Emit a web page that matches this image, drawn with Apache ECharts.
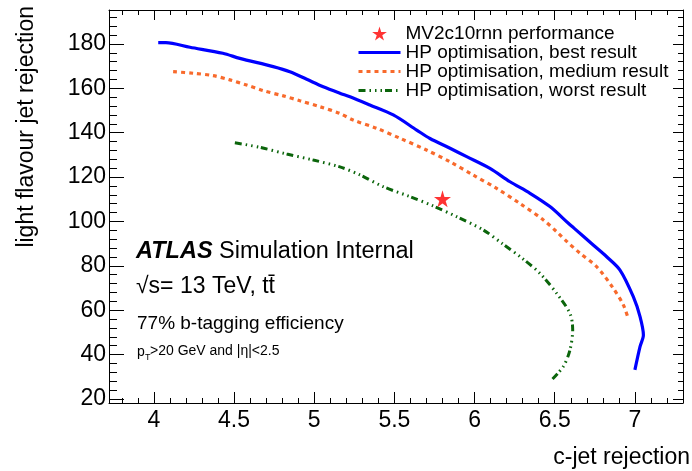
<!DOCTYPE html>
<html>
<head>
<meta charset="utf-8">
<script src="https://cdn.jsdelivr.net/npm/echarts@6/dist/echarts.min.js"></script>
<style>
  html, body { margin: 0; padding: 0; background: #fff; }
  #main { width: 692px; height: 471px; }
</style>
</head>
<body>
<div id="main"></div>
<script type="text/javascript">
  // c-jet rejection (x) / light flavour jet rejection (y)
  var bestC = [4.027, 4.075, 4.225, 4.43, 4.536, 4.744, 4.848, 4.953, 5.056, 5.16, 5.223, 5.347, 5.493, 5.639, 5.722, 5.847, 5.951, 6.096, 6.221, 6.346, 6.47, 6.585, 6.62, 6.74, 6.824, 6.907, 6.99, 7.032, 7.053, 7.032, 7.0];
  var bestL = [180.6, 180.6, 178.5, 175.8, 173.5, 169.8, 167.5, 164.1, 160.7, 157.8, 156.2, 152.5, 148.0, 141.2, 137.4, 133.0, 129.2, 123.9, 117.9, 112.7, 106.7, 99.2, 97.0, 89.4, 84.1, 78.1, 66.1, 57.1, 48.8, 43.6, 33.1];

  var mediumC = [4.12, 4.245, 4.37, 4.474, 4.578, 4.68, 4.807, 4.911, 5.036, 5.16, 5.243, 5.389, 5.535, 5.70, 5.847, 5.992, 6.138, 6.283, 6.429, 6.512, 6.575, 6.657, 6.762, 6.865, 6.928, 6.96];
  var mediumL = [167.5, 166.8, 165.7, 163.8, 161.5, 159.0, 156.6, 154.4, 151.7, 148.7, 145.7, 142.0, 137.5, 132.2, 126.9, 120.9, 114.9, 108.1, 100.7, 95.4, 91.0, 85.7, 79.6, 69.9, 62.4, 55.9];

  var worstC = [4.505, 4.661, 4.828, 4.994, 5.16, 5.285, 5.43, 5.597, 5.742, 5.888, 6.054, 6.17, 6.29, 6.408, 6.512, 6.595, 6.612, 6.595, 6.553, 6.47];
  var worstL = [135.5, 133.4, 130.4, 127.7, 124.6, 121.0, 115.7, 111.2, 107.0, 102.2, 96.2, 90.2, 83.8, 76.6, 67.6, 58.6, 51.1, 42.1, 34.6, 27.8];

  var refC = [5.80];
  var refL = [110.2];

  var names = ['MV2c10rnn performance', 'HP optimisation, best result', 'HP optimisation, medium result', 'HP optimisation, worst result'];

  var FONT = "'Liberation Sans', Arial, Helvetica, sans-serif";
  var STAR = 'path://M50,0 L61,35 L98,35 L68,57 L79,91 L50,70 L21,91 L32,57 L2,35 L39,35 Z';

  function pairs(xs, ys) {
    var out = [];
    for (var i = 0; i < xs.length; i++) out.push([xs[i], ys[i]]);
    return out;
  }

  function xAxisOpt(pos) {
    var bottom = pos === 'bottom';
    return {
      type: 'value', position: pos, min: 3.72, max: 7.30, splitNumber: 7,
      axisLine: { onZero: false, lineStyle: { color: '#000', width: 1 } },
      axisTick: { inside: true, length: bottom ? 11 : 10, lineStyle: { color: '#000' } },
      minorTick: { show: true, splitNumber: 5, length: 5, lineStyle: { color: '#000' } },
      splitLine: { show: false },
      axisLabel: { show: bottom, fontSize: 23, color: '#000', fontFamily: FONT, margin: 6, showMinLabel: false, showMaxLabel: false }
    };
  }

  function yAxisOpt(pos) {
    var left = pos === 'left';
    return {
      type: 'value', position: pos, min: 18.2, max: 195.3, splitNumber: 9,
      axisLine: { onZero: false, lineStyle: { color: '#000', width: 1 } },
      axisTick: { inside: true, length: left ? 15 : 10, lineStyle: { color: '#000' } },
      minorTick: { show: true, splitNumber: 5, length: left ? 8 : 5, lineStyle: { color: '#000' } },
      splitLine: { show: false },
      axisLabel: { show: left, fontSize: 23, color: '#000', fontFamily: FONT, margin: 3, showMinLabel: false, showMaxLabel: false }
    };
  }

  var chart = echarts.init(document.getElementById('main'), null, { renderer: 'canvas' });

  var noDot = { opacity: 0 };

  chart.setOption({
    animation: false,
    backgroundColor: '#fff',
    grid: { left: 109, right: 9, top: 10, bottom: 68, containLabel: false, outerBoundsMode: 'none' },
    xAxis: [xAxisOpt('bottom'), xAxisOpt('top')],
    yAxis: [yAxisOpt('left'), yAxisOpt('right')],
    legend: {
      orient: 'vertical', left: 352, top: 19,
      itemWidth: 42, itemHeight: 14, itemGap: 0,
      textStyle: { fontSize: 19, fontFamily: FONT, color: '#000', lineHeight: 17 },
      data: [
        { name: names[0] },
        { name: names[1], lineStyle: { width: 3 }, itemStyle: noDot },
        { name: names[2], lineStyle: { width: 3 }, itemStyle: noDot },
        { name: names[3], lineStyle: { width: 3 }, itemStyle: noDot }
      ]
    },
    graphic: [
      {
        type: 'text', x: 27, y: 6, rotation: Math.PI / 2,
        style: { text: 'light flavour jet rejection', font: '23px ' + FONT, fill: '#000', align: 'right', verticalAlign: 'middle' }
      },
      {
        type: 'text', x: 690, y: 458,
        style: { text: 'c-jet rejection', font: '23px ' + FONT, fill: '#000', align: 'right', verticalAlign: 'middle' }
      },
      {
        type: 'text', x: 136, y: 252,
        style: {
          text: '{a|ATLAS} Simulation Internal', font: '23.5px ' + FONT, fill: '#000', verticalAlign: 'middle',
          rich: { a: { fontWeight: 'bold', fontStyle: 'italic', fontSize: 23.5, fontFamily: FONT } }
        }
      },
      {
        type: 'text', x: 136, y: 287,
        style: { text: '\u221As= 13 TeV, tt\u0304', font: '23px ' + FONT, fill: '#000', verticalAlign: 'middle' }
      },
      {
        type: 'text', x: 137, y: 324,
        style: { text: '77% b-tagging efficiency', font: '19px ' + FONT, fill: '#000', verticalAlign: 'middle' }
      },
      {
        type: 'text', x: 137, y: 352,
        style: { text: 'p', font: '14px ' + FONT, fill: '#000', verticalAlign: 'middle' }
      },
      {
        type: 'text', x: 145, y: 358,
        style: { text: 'T', font: '9px ' + FONT, fill: '#000', verticalAlign: 'middle' }
      },
      {
        type: 'text', x: 150, y: 351,
        style: { text: '>20 GeV and |\u03B7|<2.5', font: '14px ' + FONT, fill: '#000', verticalAlign: 'middle' }
      }
    ],
    series: [
      {
        name: names[0], type: 'scatter', xAxisIndex: 0, yAxisIndex: 0,
        symbol: STAR, symbolSize: 17,
        itemStyle: { color: '#ff0000' },
        data: pairs(refC, refL), z: 5
      },
      {
        name: names[1], type: 'line', symbol: 'none', smooth: 0.3,
        lineStyle: { color: '#0000ff', width: 3.2 },
        itemStyle: { color: '#0000ff' },
        data: pairs(bestC, bestL)
      },
      {
        name: names[2], type: 'line', symbol: 'none', smooth: 0.3,
        lineStyle: { color: '#f86a2c', width: 3.2, type: [4, 4] },
        itemStyle: { color: '#f86a2c' },
        data: pairs(mediumC, mediumL)
      },
      {
        name: names[3], type: 'line', symbol: 'none', smooth: 0.3,
        lineStyle: { color: '#0b650b', width: 3, type: [7, 4, 1.5, 4, 1.5, 4, 1.5, 3] },
        itemStyle: { color: '#0b650b' },
        data: pairs(worstC, worstL)
      }
    ]
  });
</script>
</body>
</html>
